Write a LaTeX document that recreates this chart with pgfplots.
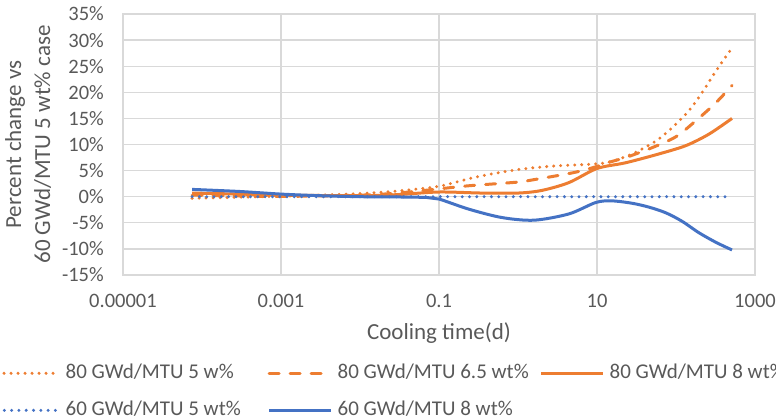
\documentclass[border=0pt]{standalone}
\usepackage{fontspec}
\setmainfont{Carlito}
\usepackage{pgfplots}
\pgfplotsset{compat=1.18}
\definecolor{myorange}{HTML}{ED7D31}
\definecolor{myblue}{HTML}{4472C4}
\definecolor{txtgray}{HTML}{595959}
\definecolor{gridgray}{HTML}{D9D9D9}
\begin{document}
\begin{tikzpicture}
\begin{axis}[
  at={(123pt,143pt)}, anchor=south west,
  scale only axis, width=632pt, height=261pt,
  xmode=log, xmin=1e-5, xmax=1000, ymin=-15, ymax=35,
  xtick={1e-5,1e-3,1e-1,10,1000},
  xticklabels={0.00001,0.001,0.1,10,1000},
  minor xtick={},
  ytick={-15,-10,-5,0,5,10,15,20,25,30,35},
  yticklabels={-15\%,-10\%,-5\%,0\%,5\%,10\%,15\%,20\%,25\%,30\%,35\%},
  major tick length=0pt, minor tick length=0pt,
  grid=major, grid style={gridgray, line width=1.3pt},
  axis line style={gridgray, line width=1.3pt},
  ticklabel style={font=\fontsize{20.5}{24}\selectfont, text=txtgray},
  xticklabel style={anchor=north, inner sep=0pt, yshift=-19pt},
  yticklabel style={anchor=east, inner sep=0pt, xshift=-19pt},
  xlabel={Cooling time(d)},
  xlabel style={at={(axis description cs:0.5,-0.249)}, anchor=base, inner sep=0pt, font=\fontsize{23}{28}\selectfont, text=txtgray},
  ylabel={Percent change vs\\60 GWd/MTU 5 wt\% case},
  ylabel style={at={(axis description cs:-0.150,0.5)}, anchor=center, align=center, inner sep=0pt, font=\fontsize{23}{29}\selectfont, text=txtgray},
  legend image code/.code={\draw[#1] (0pt,0pt) -- (62pt,0pt);},
  legend columns=3,
  legend cell align=left,
  legend style={draw=none, fill=none, at={(axis description cs:-0.207,-0.330)}, anchor=north west,
    font=\fontsize{21}{25}\selectfont, text=txtgray,
    nodes={inner sep=0pt, text height=15pt, text depth=5pt, anchor=west},
    row sep=17pt,
    /tikz/every even column/.append style={column sep=12pt}},
]
\addplot[myorange, line width=3.3pt, line cap=round, dash pattern=on 0pt off 7pt, smooth, tension=0.5] coordinates {
(7.5e-5,-0.3) (3e-4,-0.1) (1e-3,0.1) (3e-3,0.3) (0.01,0.6) (0.03,1.1) (0.1,2.0) (0.3,3.8) (1,5.2) (3,5.9) (8,6.2) (14,6.6) (28,8.2) (56,10.7) (89,13.2) (146,16.5) (213,19.9) (321,24.1) (500,28.3)};
\addlegendentry{\makebox[195pt][l]{\hspace{5pt}80 GWd/MTU 5 w\%}}
\addplot[myorange, line width=3pt, line cap=round, dash pattern=on 10pt off 11pt, smooth, tension=0.5] coordinates {
(7.5e-5,0.3) (3e-4,0.15) (1e-3,0.05) (0.01,0.3) (0.03,0.7) (0.1,1.5) (0.24,2.1) (1,2.8) (1.5,3.2) (5,4.6) (10,5.8) (12,6.3) (23,7.5) (50,9.4) (100,11.5) (180,14.6) (320,18.0) (512,21.3)};
\addlegendentry{\makebox[195pt][l]{\hspace{5pt}80 GWd/MTU 6.5 wt\%}}
\addplot[myorange, line width=3pt, smooth, tension=0.5] coordinates {
(7.5e-5,0.7) (3e-4,0.5) (1e-3,0.3) (0.01,0.2) (0.03,0.4) (0.1,0.9) (0.35,0.7) (1,0.7) (2,1.2) (4.4,2.7) (10,5.4) (23,6.5) (61,8.2) (134,9.8) (262,12.0) (512,15.0)};
\addlegendentry{\makebox[195pt][l]{\hspace{5pt}80 GWd/MTU 8 wt\%}}
\addplot[myblue, line width=3.3pt, line cap=round, dash pattern=on 0pt off 7.3pt] coordinates {
(7.5e-5,0) (512,0)};
\addlegendentry{\makebox[195pt][l]{\hspace{5pt}60 GWd/MTU 5 wt\%}}
\addplot[myblue, line width=3pt, smooth, tension=0.5] coordinates {
(7.5e-5,1.4) (3e-4,1.0) (1e-3,0.5) (3e-3,0.2) (0.01,0.0) (0.03,-0.05) (0.07,-0.15) (0.1,-0.45) (0.24,-2.4) (0.63,-4.0) (1.6,-4.5) (4.4,-3.3) (9.7,-1.1) (15.5,-0.8) (27.7,-1.25) (45.5,-2.0) (74.7,-3.1) (119,-4.7) (195,-6.9) (321,-8.75) (512,-10.2)};
\addlegendentry{\makebox[195pt][l]{\hspace{5pt}60 GWd/MTU 8 wt\%}}
\end{axis}
\pgfresetboundingbox
\useasboundingbox (0pt,0pt) rectangle (776pt,418pt);
\end{tikzpicture}
\end{document}
